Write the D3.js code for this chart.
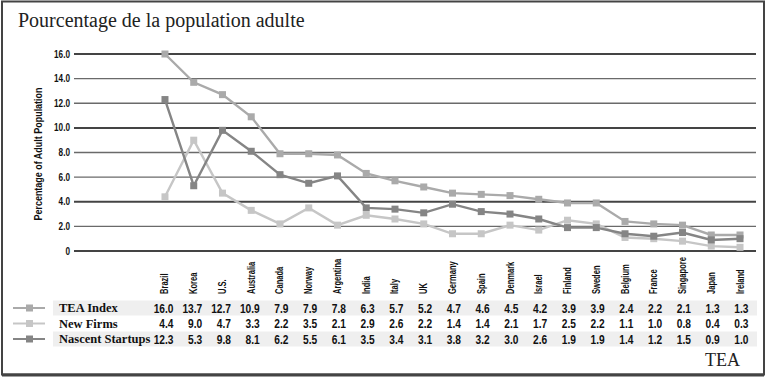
<!DOCTYPE html>
<html><head><meta charset="utf-8">
<script src="https://cdn.jsdelivr.net/npm/d3@7"></script>
<style>
body{margin:0;background:#fff;}
svg{display:block;}
.cond{font-family:'Liberation Sans','DejaVu Sans',sans-serif;font-weight:bold;}
.serif{font-family:'Liberation Serif','DejaVu Serif',serif;}
</style></head>
<body><svg id="c" width="768" height="379"></svg>
<script>
const countries = ["Brazil","Korea","U.S.","Australia","Canada","Norway","Argentina","India","Italy","UK","Germany","Spain","Denmark","Israel","Finland","Sweden","Belgium","France","Singapore","Japan","Ireland"];
const teaIndex = [16.0,13.7,12.7,10.9,7.9,7.9,7.8,6.3,5.7,5.2,4.7,4.6,4.5,4.2,3.9,3.9,2.4,2.2,2.1,1.3,1.3];
const newFirms = [4.4,9.0,4.7,3.3,2.2,3.5,2.1,2.9,2.6,2.2,1.4,1.4,2.1,1.7,2.5,2.2,1.1,1.0,0.8,0.4,0.3];
const nascent = [12.3,5.3,9.8,8.1,6.2,5.5,6.1,3.5,3.4,3.1,3.8,3.2,3.0,2.6,1.9,1.9,1.4,1.2,1.5,0.9,1.0];
const yTicks = [0,2,4,6,8,10,12,14,16];
const seriesNames = ["TEA Index","New Firms","Nascent Startups"];
const seriesColors = ["#aaaaaa","#c6c6c6","#858585"];
const seriesData = [teaIndex,newFirms,nascent];

const svg = d3.select("#c");
// frame
svg.append("rect").attr("x",2).attr("y",1.5).attr("width",762).attr("height",373).attr("fill","none").attr("stroke","#444").attr("stroke-width",2);
svg.append("line").attr("x1",2).attr("x2",764).attr("y1",375).attr("y2",375).attr("stroke","#444").attr("stroke-width",3);

svg.append("text").attr("class","serif").attr("x",18).attr("y",27).attr("font-size",20).attr("fill","#222").text("Pourcentage de la population adulte");

const x = d3.scaleBand().domain(countries).range([150.6,754.4]);
const cx = d => x(d)+x.bandwidth()/2;
const y = d3.scaleLinear().domain([0,16]).range([251,54]);

// gridlines
const heavy = new Set([0,4,10,16]);
svg.append("g").selectAll("line").data(yTicks).join("line")
  .attr("x1",74).attr("x2",756).attr("y1",d=>y(d)).attr("y2",d=>y(d))
  .attr("stroke",d=>heavy.has(d)?"#444":"#6a6a6a").attr("stroke-width",d=>heavy.has(d)?2:1.3);
svg.append("g").selectAll("text").data(yTicks).join("text").attr("class","cond")
  .attr("transform",d=>`translate(70,${y(d)+3.5}) scale(0.78,1)`).attr("text-anchor","end").attr("font-size",10.5).attr("fill","#111")
  .text(d=>d===0?"0":d.toFixed(1));
svg.append("text").attr("class","cond").attr("transform","translate(42,154) rotate(-90) scale(0.78,1)").attr("text-anchor","middle")
  .attr("font-size",11.5).attr("fill","#111").text("Percentage of Adult Population");

// lines
const line = d3.line().x((d,i)=>cx(countries[i])).y(d=>y(d));
seriesData.forEach((arr,k)=>{
  const g = svg.append("g");
  g.append("path").attr("d",line(arr)).attr("fill","none").attr("stroke",seriesColors[k]).attr("stroke-width",2.4);
  g.selectAll("rect").data(arr).join("rect")
    .attr("x",(d,i)=>cx(countries[i])-3.5).attr("y",d=>y(d)-3.5).attr("width",7).attr("height",7).attr("fill",seriesColors[k]);
});

// country labels
svg.append("g").selectAll("text").data(countries).join("text").attr("class","cond")
  .attr("transform",d=>`translate(${cx(d)+3.5},294) rotate(-90) scale(0.72,1)`).attr("font-size",10.5).attr("fill","#111").text(d=>d);

// table
const rowY = [308,323.5,339];
const rowBg = ["#efefef","#ffffff","#efefef"];
rowY.forEach((ry,k)=>{
  svg.append("rect").attr("x",53).attr("y",ry-7.5).attr("width",704).attr("height",15).attr("fill",rowBg[k]);
});
rowY.forEach((ry,k)=>{
  svg.append("line").attr("x1",13).attr("x2",45).attr("y1",ry).attr("y2",ry).attr("stroke",seriesColors[k]).attr("stroke-width",2);
  svg.append("rect").attr("x",26).attr("y",ry-3.5).attr("width",7).attr("height",7).attr("fill",seriesColors[k]);
  svg.append("text").attr("class","serif").attr("x",59).attr("y",ry+4).attr("font-size",12.5).attr("font-weight","bold").attr("fill","#111").text(seriesNames[k]);
  svg.append("g").selectAll("text").data(seriesData[k]).join("text").attr("class","cond")
    .attr("transform",(d,i)=>`translate(${cx(countries[i])+8.5},${ry+4.5}) scale(0.85,1)`).attr("text-anchor","end").attr("font-size",12).attr("fill","#111")
    .text(d=>d.toFixed(1));
});

svg.append("text").attr("class","serif").attr("x",705).attr("y",366).attr("font-size",18).attr("fill","#222").text("TEA");
</script></body></html>
